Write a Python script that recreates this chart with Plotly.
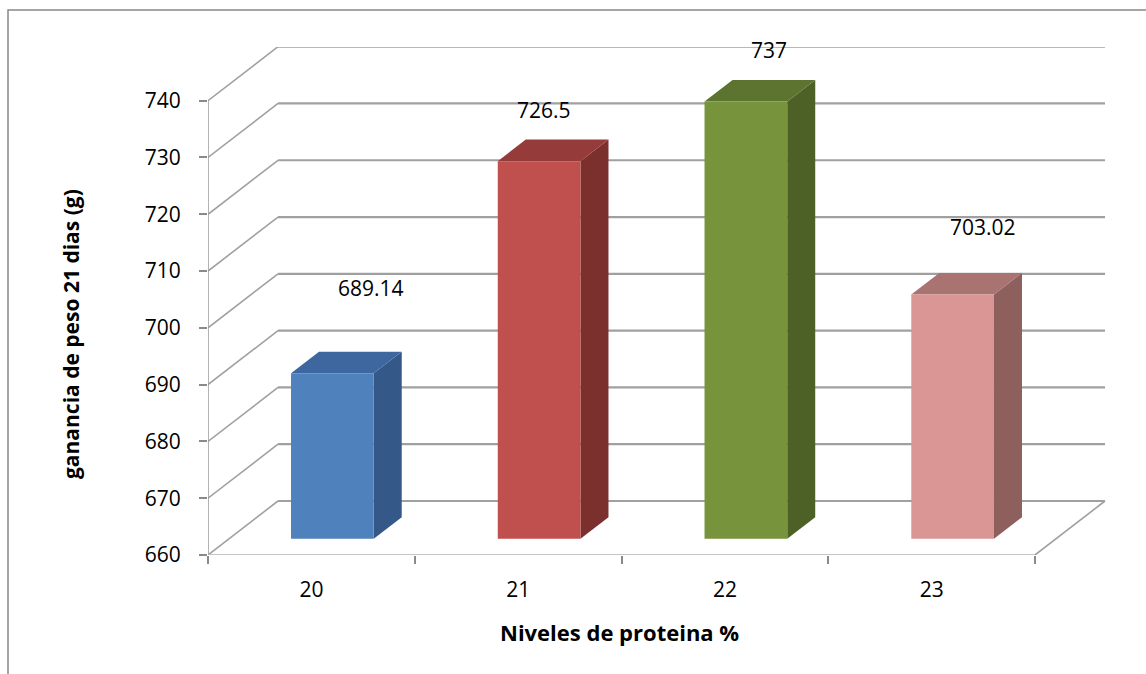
import plotly.graph_objects as go

# ---- data ----
categories = ["20", "21", "22", "23"]
ganancia = [689.14, 726.5, 737, 703.02]
value_labels = ["689.14", "726.5", "737", "703.02"]
y_ticks = [660, 670, 680, 690, 700, 710, 720, 730, 740]

# ---- styling ----
front_colors = ["#4F81BD", "#C0504D", "#77933C", "#D99694"]
top_colors = ["#3D679E", "#953B39", "#5C7430", "#A97371"]
side_colors = ["#345888", "#7C302E", "#4D6127", "#8D5F5D"]
label_shift = [(60, 102), (26, 67), (44, 68), (51, 84)]  # pixel nudges of data labels

FONT = "Open Sans"
W, H = 1146, 674
ML, MR, MT, MB = 208, 38, 47, 119
plot_w = W - ML - MR
plot_h = H - MT - MB
px_per_cat = 206.75
px_per_val = 5.679
y0 = 660
x_lo = -0.5
x_hi = x_lo + plot_w / px_per_cat
y_hi = y0 + plot_h / px_per_val

# oblique depth offset of the 3-D box (full depth), in axis units
DX = 70 / px_per_cat
DY = 54 / px_per_val
n = len(categories)


def P(x, v, d):
    """Project a point (category position, value, depth 0..1) onto the 2-D axes."""
    return x + d * DX, v + d * DY


def path(points):
    return "M " + " L ".join(f"{px},{py}" for px, py in points) + " Z"


def paper_x(px):
    return (px - ML) / plot_w


def paper_y(py):
    return (H - MB - py) / plot_h


shapes = []
grid_col = "#A0A0A0"

# back wall and left wall gridlines
for v in y_ticks:
    a = P(x_lo, v, 0)
    b = P(x_lo, v, 1)
    c = P(n - 0.5, v, 1)
    shapes.append(dict(type="line", xref="x", yref="y", x0=a[0], y0=a[1], x1=b[0], y1=b[1],
                       line=dict(color=grid_col, width=1.6), layer="below"))
    shapes.append(dict(type="line", xref="x", yref="y", x0=b[0], y0=b[1], x1=c[0], y1=c[1],
                       line=dict(color=grid_col, width=2.2), layer="below"))

# floor right edge
a = P(n - 0.5, y0, 0)
b = P(n - 0.5, y0, 1)
shapes.append(dict(type="line", xref="x", yref="y", x0=a[0], y0=a[1], x1=b[0], y1=b[1],
                   line=dict(color=grid_col, width=1.6), layer="below"))
# floor front edge (category axis)
shapes.append(dict(type="line", xref="x", yref="y", x0=x_lo, y0=y0, x1=n - 0.5, y1=y0,
                   line=dict(color="#C4C4C4", width=2), layer="below"))
# value axis line
shapes.append(dict(type="line", xref="x", yref="y", x0=x_lo, y0=y0, x1=x_lo, y1=y_ticks[-1],
                   line=dict(color="#9A9A9A", width=1.5), layer="below"))

# 3-D bars
bw = 0.40
d_front, d_back = 0.30, 0.70
for i, v in enumerate(ganancia):
    xl, xr = i - bw / 2, i + bw / 2
    front = [P(xl, y0, d_front), P(xr, y0, d_front), P(xr, v, d_front), P(xl, v, d_front)]
    side = [P(xr, y0, d_front), P(xr, y0, d_back), P(xr, v, d_back), P(xr, v, d_front)]
    top = [P(xl, v, d_front), P(xr, v, d_front), P(xr, v, d_back), P(xl, v, d_back)]
    for pts, col in ((side, side_colors[i]), (top, top_colors[i]), (front, front_colors[i])):
        shapes.append(dict(type="path", xref="x", yref="y", path=path(pts),
                           fillcolor=col, line=dict(width=0), layer="above"))

# chart frame
shapes.append(dict(type="rect", xref="paper", yref="paper",
                   x0=paper_x(8), x1=paper_x(W + 20),
                   y0=paper_y(H + 20), y1=paper_y(10),
                   line=dict(color="#888888", width=1.5), layer="below"))

annotations = []
for i, (v, t) in enumerate(zip(ganancia, value_labels)):
    annotations.append(dict(x=i, y=v, xref="x", yref="y", text=t, showarrow=False,
                            xanchor="center", yanchor="middle",
                            xshift=label_shift[i][0], yshift=label_shift[i][1],
                            font=dict(family=FONT, size=21, color="#000000")))

annotations.append(dict(text="<b>ganancia de peso 21 dias (g)</b>", xref="paper", yref="paper",
                        x=paper_x(71), y=paper_y(334), xanchor="center", yanchor="middle",
                        textangle=-90, showarrow=False,
                        font=dict(family=FONT, size=21, color="#000000")))
annotations.append(dict(text="<b>Niveles de proteina %</b>", xref="paper", yref="paper",
                        x=paper_x(619), y=paper_y(632), xanchor="center", yanchor="middle",
                        showarrow=False, font=dict(family=FONT, size=22, color="#000000")))

fig = go.Figure()
fig.add_trace(go.Scatter(x=[None], y=[None], showlegend=False, hoverinfo="skip"))

fig.update_layout(
    width=W, height=H,
    margin=dict(l=ML, r=MR, t=MT, b=MB, pad=0),
    paper_bgcolor="white", plot_bgcolor="white",
    showlegend=False,
    shapes=shapes,
    annotations=annotations,
    xaxis=dict(range=[x_lo, x_hi], showgrid=False, zeroline=False, showline=False,
               tickmode="array", tickvals=list(range(n)), ticktext=categories,
               ticks="", ticklabelstandoff=20,
               tickfont=dict(family=FONT, size=21, color="#000000"),
               minor=dict(tickmode="array", tickvals=[k - 0.5 for k in range(n + 1)],
                          ticks="outside", ticklen=8, tickcolor="#8A8A8A", tickwidth=1.5,
                          showgrid=False),
               fixedrange=True),
    yaxis=dict(range=[y0, y_hi], showgrid=False, zeroline=False, showline=False,
               tickmode="array", tickvals=y_ticks,
               ticks="outside", ticklen=8, tickcolor="#8A8A8A", tickwidth=1.5,
               ticklabelstandoff=14,
               tickfont=dict(family=FONT, size=21, color="#000000"),
               fixedrange=True),
)

fig.write_html("out.html")
